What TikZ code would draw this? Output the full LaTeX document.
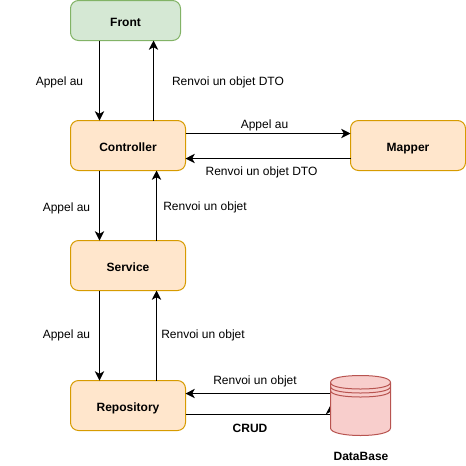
\documentclass[tikz,border=0pt]{standalone}
\usepackage{fontspec}
\setmainfont{Liberation Sans}
\usetikzlibrary{arrows.meta}
\definecolor{orF}{HTML}{FFE6CC}
\definecolor{orD}{HTML}{D79B00}
\definecolor{grF}{HTML}{D5E8D4}
\definecolor{grD}{HTML}{82B366}
\definecolor{reF}{HTML}{F8CECC}
\definecolor{reD}{HTML}{B85450}
\tikzset{
  x=0.75pt,y=-0.75pt,
  boxnode/.style={draw,rounded corners=6pt,inner sep=0,outer sep=0,line width=0.75pt,font=\fontsize{9}{11}\selectfont\bfseries,text height=8.6pt,text depth=0pt},
  orbox/.style={boxnode,fill=orF,draw=orD,minimum width=86.25pt,minimum height=37.5pt},
  grbox/.style={boxnode,fill=grF,draw=grD,minimum width=82.5pt,minimum height=30pt},
  lbl/.style={font=\fontsize{9}{11}\selectfont,inner sep=0,outer sep=0},
  blbl/.style={lbl,font=\fontsize{9}{11}\selectfont\bfseries},
  arr/.style={line width=0.75pt,-{Stealth[length=7pt,width=7pt,inset=2pt]}}
}
\begin{document}
\begin{tikzpicture}
\useasboundingbox (0,0) rectangle (466,465);
\node[grbox] (front) at (125.5,20.5) {Front};
\node[orbox] (ctrl) at (128,145.5) {Controller};
\node[orbox] (serv) at (128,265.5) {Service};
\node[orbox] (repo) at (128,405.5) {Repository};
\node[orbox] (mapp) at (408,145.5) {Mapper};
\coordinate (dbw) at (330.5,414.5);
\coordinate (dbt) at (330.5,405);
\coordinate (dbr) at (330.5,393.5);
\coordinate (xa) at (99.5,0);
\coordinate (xb) at (153.5,0);
\coordinate (xc) at (156.5,0);
\coordinate (ya) at (0,133.5);
\coordinate (yb) at (0,158.5);
% connectors
\draw[arr] (front.south -| xa) -- (ctrl.north -| xa);
\draw[arr] (ctrl.north -| xb) -- (front.south -| xb);
\draw[arr] (ctrl.south -| xa) -- (serv.north -| xa);
\draw[arr] (serv.north -| xc) -- (ctrl.south -| xc);
\draw[arr] (serv.south -| xa) -- (repo.north -| xa);
\draw[arr] (repo.north -| xc) -- (serv.south -| xc);
\draw[arr] (ctrl.east |- ya) -- (mapp.west |- ya);
\draw[arr] (mapp.west |- yb) -- (ctrl.east |- yb);
\draw[arr] (dbr) -- (repo.east |- dbr);
\draw[arr] (repo.east |- dbw) -- (dbw) -- (dbt);
% database
\draw[draw=reD,fill=reF,line width=0.75pt] (330.5,382.5)
  .. controls (330.5,377.5) and (345,375.5) .. (360.5,375.5)
  .. controls (376,375.5) and (390.5,377.5) .. (390.5,382.5)
  -- (390.5,428)
  .. controls (390.5,433) and (376,435.5) .. (360.5,435.5)
  .. controls (345,435.5) and (330.5,433) .. (330.5,428) -- cycle;
\foreach \yy in {0,4,8}{
\draw[draw=reD,line width=0.75pt] (330.5,382.5+\yy)
  .. controls (330.5,387+\yy) and (345,389+\yy) .. (360.5,389+\yy)
  .. controls (376,389+\yy) and (390.5,387+\yy) .. (390.5,382.5+\yy);
}
% labels
\node[lbl] (l1) at (59.5,82.5) {Appel au};
\node[lbl] (l2) at (228,82.5) {Renvoi un objet DTO};
\node[lbl] (l3) at (66.5,208.5) {Appel au};
\node[lbl] (l4) at (205,207.5) {Renvoi un objet};
\node[lbl] (l5) at (66.5,335.5) {Appel au};
\node[lbl] (l6) at (203,335.5) {Renvoi un objet};
\node[lbl] (l7) at (264.5,125.5) {Appel au};
\node[lbl] (l8) at (261.5,172.5) {Renvoi un objet DTO};
\node[lbl] (l9) at (255,381) {Renvoi un objet};
\node[blbl] (l10) at (250,428.5) {CRUD};
\node[blbl] (l11) at (361,456.5) {DataBase};
\end{tikzpicture}
\end{document}
